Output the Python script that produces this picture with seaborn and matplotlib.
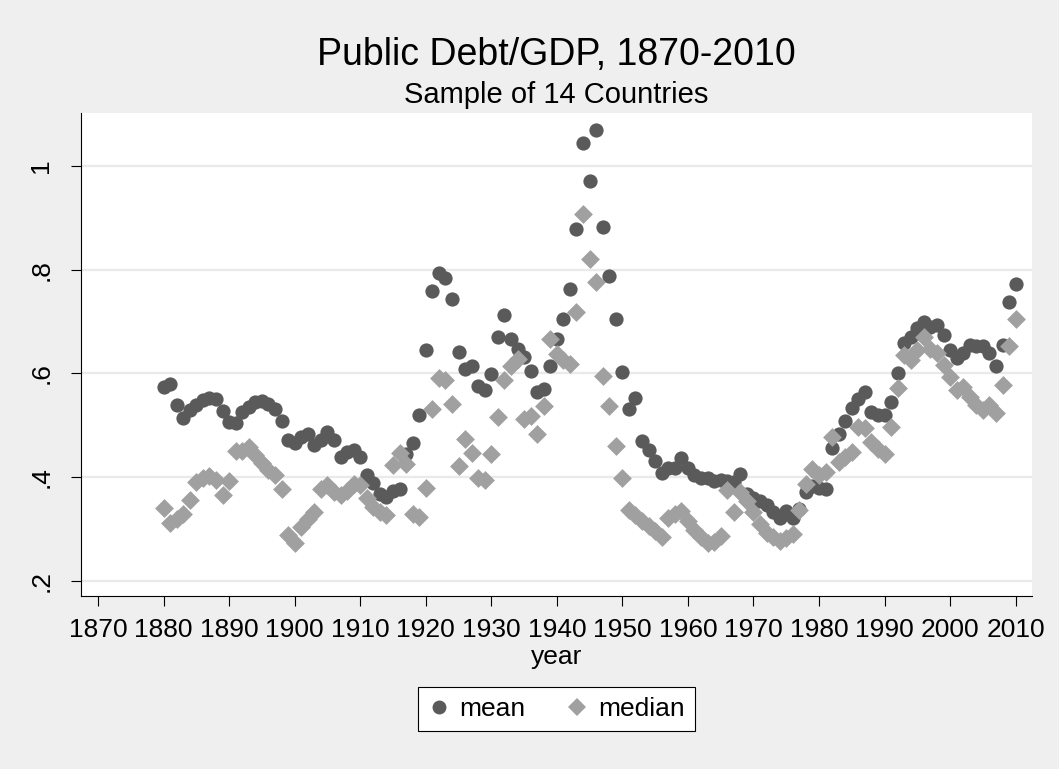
import numpy as np
import pandas as pd
import matplotlib
matplotlib.use("Agg")
import matplotlib.pyplot as plt
import seaborn as sns
from matplotlib.lines import Line2D

# ---------------- data ----------------
years = list(range(1880, 2011))

mean_debt = [
    .574, .580, .539, .515, .529, .540, .548, .553, .551, .528,
    .506, .505, .525, .535, .545, .546, .541, .531, .509, .472,
    .466, .477, .484, .463, .471, .488, .472, .439, .449, .452,
    .439, .404, .388, .368, .361, .374, .378, .445, .465, .519,
    .645, .758, .794, .784, .743, .641, .608, .615, .576, .568,
    .599, .670, .712, .666, .647, .631, .605, .565, .570, .615,
    .666, .705, .762, .879, 1.044, .970, 1.070, .883, .787, .705,
    .602, .532, .552, .470, .452, .432, .408, .418, .418, .437,
    .418, .405, .398, .398, .392, .394, .392, .390, .407, .368,
    .360, .354, .347, .333, .322, .335, .322, .338, .372, .383,
    .380, .378, .457, .483, .508, .533, .550, .564, .526, .520,
    .519, .545, .600, .658, .671, .688, .700, .690, .693, .674,
    .645, .629, .639, .655, .652, .652, .639, .614, .655, .737,
    .772,
]

median_debt = [
    .340, .311, .320, .330, .357, .390, .399, .403, .394, .366,
    .393, .451, .451, .459, .443, .428, .413, .404, .378, .288,
    .273, .304, .320, .333, .378, .384, .372, .365, .373, .386,
    .385, .360, .342, .332, .327, .424, .447, .425, .330, .323,
    .380, .532, .592, .587, .542, .422, .473, .447, .399, .395,
    .445, .516, .587, .614, .627, .512, .518, .483, .537, .666,
    .637, .625, .618, .718, .908, .821, .776, .595, .537, .460,
    .399, .337, .327, .316, .306, .296, .285, .321, .330, .334,
    .315, .299, .284, .273, .276, .287, .375, .333, .372, .354,
    .332, .310, .293, .284, .277, .283, .291, .337, .386, .416,
    .405, .410, .478, .430, .439, .448, .497, .494, .468, .455,
    .445, .497, .571, .635, .626, .645, .671, .648, .639, .616,
    .594, .568, .574, .555, .539, .529, .539, .523, .577, .652,
    .705,
]

series_names = ["mean", "median"]
title_text = "Public Debt/GDP, 1870-2010"
subtitle_text = "Sample of 14 Countries"
x_label = "year"
x_ticks = [1870, 1880, 1890, 1900, 1910, 1920, 1930, 1940, 1950,
           1960, 1970, 1980, 1990, 2000, 2010]
y_ticks = [0.2, 0.4, 0.6, 0.8, 1.0]
y_tick_labels = [".2", ".4", ".6", ".8", "1"]

# ---------------- style ----------------
sns.set_theme(style="white")
plt.rcParams["font.family"] = ["Liberation Sans", "DejaVu Sans"]
plt.rcParams["text.color"] = "black"
plt.rcParams["xtick.color"] = "black"
plt.rcParams["ytick.color"] = "black"

MEAN_C = "#5a5a5a"
MED_C = "#a0a0a0"
BG = "#EFEFEF"

W, H = 1059, 769
fig = plt.figure(figsize=(W / 100, H / 100), dpi=100, facecolor=BG)
left, right, top, bottom = 81, 1032, 113, 596
ax = fig.add_axes([left / W, 1 - bottom / H, (right - left) / W, (bottom - top) / H])
ax.set_facecolor("white")

df = pd.DataFrame({"year": years, "mean": mean_debt, "median": median_debt})

sns.scatterplot(data=df, x="year", y="mean", ax=ax, color=MEAN_C, marker="o",
                s=105, linewidth=0, zorder=3, legend=False)
sns.scatterplot(data=df, x="year", y="median", ax=ax, color=MED_C, marker="D",
                s=92, linewidth=0, zorder=4, legend=False)

ax.set_xlim(1867.4, 2012.5)
ax.set_ylim(0.171, 1.102)
ax.set_xticks(x_ticks)
ax.set_xticklabels([str(t) for t in x_ticks])
ax.set_yticks(y_ticks)
ax.set_yticklabels(y_tick_labels, rotation=90, va="center")
ax.set_xlabel("")
ax.set_ylabel("")

ax.yaxis.grid(True, color="#EAEAEA", linewidth=1.7)
ax.xaxis.grid(False)
ax.set_axisbelow(True)

for s in ["top", "right"]:
    ax.spines[s].set_visible(False)
for s in ["left", "bottom"]:
    ax.spines[s].set_visible(True)
    ax.spines[s].set_color("black")
    ax.spines[s].set_linewidth(0.8)

ax.tick_params(axis="x", which="major", direction="out", length=7, width=0.8,
               color="black", labelcolor="black", labelsize=19, pad=9, bottom=True)
ax.tick_params(axis="y", which="major", direction="out", length=7, width=0.8,
               color="black", labelcolor="black", labelsize=19, pad=13, left=True)

cx = (left + right) / 2 / W
fig.text(cx, 1 - 55 / H, title_text, ha="center", va="center", fontsize=27, color="black")
fig.text(cx, 1 - 95 / H, subtitle_text, ha="center", va="center", fontsize=21, color="black")
fig.text(cx, 1 - 657 / H, x_label, ha="center", va="center", fontsize=19, color="black")

handles = [
    Line2D([], [], marker="o", linestyle="", color=MEAN_C, markersize=10, markeredgewidth=0),
    Line2D([], [], marker="D", linestyle="", color=MED_C, markersize=9, markeredgewidth=0),
]
leg = fig.legend(handles, series_names, loc="center", bbox_to_anchor=(cx, 1 - 709 / H),
                 ncol=2, fontsize=19, frameon=True, fancybox=False, framealpha=1,
                 facecolor="white", edgecolor="black", handlelength=0.8,
                 handletextpad=0.4, columnspacing=1.55, borderpad=0.38)
leg.get_frame().set_linewidth(0.8)
for t in leg.get_texts():
    t.set_color("black")

fig.savefig("out.png", dpi=100, facecolor=BG)
